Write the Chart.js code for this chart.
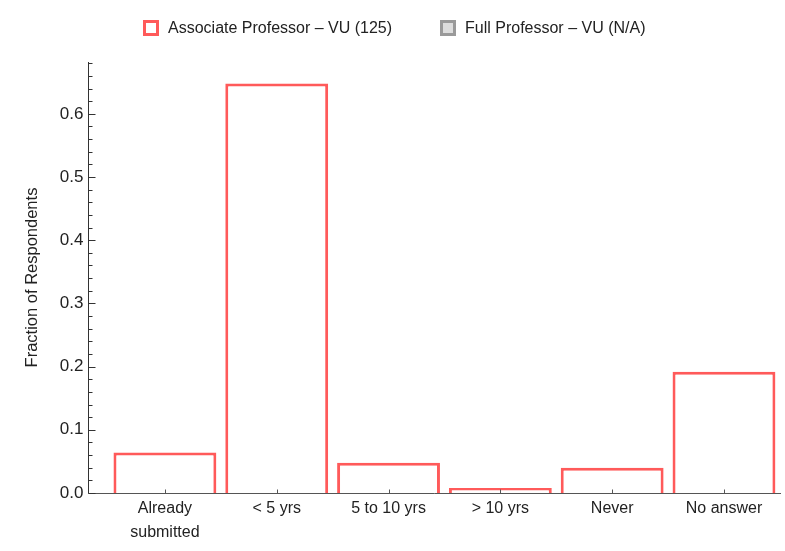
<!DOCTYPE html>
<html>
<head>
<meta charset="utf-8">
<script src="https://cdn.jsdelivr.net/npm/chart.js@4/dist/chart.umd.min.js"></script>
<style>
  html, body { margin: 0; padding: 0; background: #ffffff; }
  #wrap { width: 785px; height: 551px; position: relative; }
</style>
</head>
<body>
<div id="wrap"><canvas id="c" width="785" height="551"></canvas></div>
<script>
// ---- data ----
const categories = [["Already", "submitted"], "< 5 yrs", "5 to 10 yrs", "> 10 yrs", "Never", "No answer"];
const associateVU = [0.064, 0.648, 0.048, 0.008, 0.040, 0.192];
const fullVU = [];
const seriesNames = ["Associate Professor \u2013 VU (125)", "Full Professor \u2013 VU (N/A)"];
const yTicks = [0, 0.1, 0.2, 0.3, 0.4, 0.5, 0.6];
const yTitle = "Fraction of Respondents";

const FONT = "'Liberation Sans', Arial, Helvetica, sans-serif";

const axesPlugin = {
  id: 'mmaAxes',
  afterDatasetsDraw(chart) {
    const { ctx, chartArea: a, scales } = chart;
    const y = scales.y, x = scales.x;
    ctx.save();
    ctx.lineWidth = 1;
    const yb = Math.round(y.getPixelForValue(0)) + 0.5;
    ctx.strokeStyle = '#555555';
    ctx.beginPath(); ctx.moveTo(a.left, yb); ctx.lineTo(a.right, yb); ctx.stroke();
    categories.forEach((c, i) => {
      const px = Math.round(x.getPixelForValue(i)) + 0.5;
      ctx.beginPath(); ctx.moveTo(px, yb); ctx.lineTo(px, yb - 4); ctx.stroke();
    });
    ctx.strokeStyle = '#333333';
    const xl = Math.round(a.left) + 0.5;
    ctx.beginPath(); ctx.moveTo(xl, a.top); ctx.lineTo(xl, yb); ctx.stroke();
    for (let k = 0; k <= 34; k++) {
      const v = k * 0.02;
      if (v > y.max + 1e-9) break;
      const py = Math.round(y.getPixelForValue(v)) + 0.5;
      const len = (k % 5 === 0) ? 7 : 4;
      ctx.beginPath(); ctx.moveTo(xl, py); ctx.lineTo(xl + len, py); ctx.stroke();
    }
    ctx.restore();
  }
};

// legend drawn from the datasets (labels + colours)
const legendPlugin = {
  id: 'topLegend',
  afterDraw(chart) {
    const { ctx } = chart;
    const starts = [143, 440];
    const cy = 28, box = 16;
    ctx.save();
    ctx.font = "16px " + FONT;
    ctx.textBaseline = 'middle';
    chart.data.datasets.forEach((ds, i) => {
      const x0 = starts[i];
      ctx.fillStyle = ds.backgroundColor;
      ctx.fillRect(x0, cy - box / 2, box, box);
      ctx.lineWidth = 3;
      ctx.strokeStyle = ds.borderColor;
      ctx.strokeRect(x0 + 1.5, cy - box / 2 + 1.5, box - 3, box - 3);
      ctx.fillStyle = '#222222';
      ctx.fillText(ds.label, x0 + box + 9, cy + 1);
    });
    ctx.restore();
  }
};

new Chart(document.getElementById('c'), {
  type: 'bar',
  data: {
    datasets: [
      {
        label: seriesNames[0],
        data: associateVU.map((v, i) => ({ x: i, y: v })),
        backgroundColor: '#ffffff',
        borderColor: '#ff5a5a',
        borderWidth: 3,
        grouped: false,
        barPercentage: 0.92,
        categoryPercentage: 1.0
      },
      {
        label: seriesNames[1],
        data: fullVU.map((v, i) => ({ x: i, y: v })),
        backgroundColor: '#dddddd',
        borderColor: '#9a9a9a',
        borderWidth: 3,
        grouped: false,
        barPercentage: 0.92,
        categoryPercentage: 1.0
      }
    ]
  },
  options: {
    responsive: false,
    animation: false,
    layout: { padding: { left: 23, right: 4, top: 62, bottom: 2 } },
    plugins: {
      tooltip: { enabled: false },
      legend: { display: false }
    },
    scales: {
      x: {
        type: 'linear',
        offset: false,
        min: -0.684, max: 5.51,
        afterBuildTicks: (scale) => { scale.ticks = categories.map((c, i) => ({ value: i })); },
        grid: { display: false, drawTicks: false },
        border: { display: false },
        ticks: {
          autoSkip: false, maxRotation: 0, padding: 4,
          color: '#222222',
          font: { family: FONT, size: 16, lineHeight: 1.5 },
          callback: (v) => categories[v]
        }
      },
      y: {
        min: 0, max: 0.682,
        afterBuildTicks: (scale) => { scale.ticks = yTicks.map(v => ({ value: v })); },
        grid: { display: false, drawTicks: false },
        border: { display: false },
        ticks: {
          padding: 5, color: '#222222',
          font: { family: FONT, size: 17 },
          callback: (v) => Number(v).toFixed(1)
        },
        title: {
          display: true, text: yTitle, color: '#222222',
          font: { family: FONT, size: 16.5 }, padding: { top: 0, bottom: 12 }
        }
      }
    }
  },
  plugins: [axesPlugin, legendPlugin]
});
</script>
</body>
</html>
